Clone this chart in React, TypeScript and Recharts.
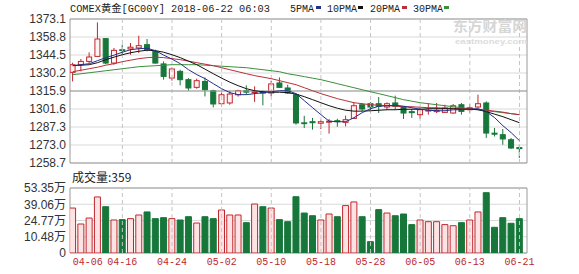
import React from 'react';
import { ComposedChart, Bar, Line, XAxis, YAxis, CartesianGrid, ReferenceLine, ReferenceArea, Cell } from 'recharts';

const dates = ['04-06','04-09','04-10','04-11','04-12','04-13','04-16','04-17','04-18','04-19','04-20','04-23','04-24','04-25','04-26','04-27','04-30','05-01','05-02','05-03','05-04','05-07','05-08','05-09','05-10','05-11','05-14','05-15','05-16','05-17','05-18','05-21','05-22','05-23','05-24','05-25','05-28','05-29','05-30','05-31','06-01','06-04','06-05','06-06','06-07','06-08','06-11','06-12','06-13','06-14','06-15','06-18','06-19','06-20','06-21'];

const opens = [1330.7,1336.8,1339.4,1343.4,1357.5,1338.1,1348.7,1349.3,1350.1,1352.7,1347.4,1337.4,1326.2,1331.5,1324.9,1318.8,1323.5,1316.1,1305.8,1306.4,1312.9,1316.1,1314.5,1315.1,1314.3,1322.3,1318.3,1312.9,1290.6,1291.5,1290.3,1291.1,1292.3,1291.0,1294.1,1305.0,1305.8,1305.8,1303.2,1306.4,1303.2,1299.5,1297.1,1300.3,1299.5,1298.9,1298.4,1305.0,1301.0,1303.2,1306.4,1282.4,1281.2,1277.2,1270.9];
const closes = [1336.8,1339.4,1342.9,1357.2,1338.1,1348.2,1348.3,1350.7,1351.9,1348.7,1338.1,1327.5,1333.4,1324.9,1318.3,1324.1,1316.9,1305.6,1312.9,1313.5,1316.1,1315.0,1315.3,1314.2,1321.5,1318.8,1314.3,1290.5,1290.5,1290.7,1291.5,1291.9,1291.5,1293.1,1304.2,1301.6,1303.2,1303.7,1305.8,1303.7,1298.4,1298.7,1301.0,1300.6,1300.5,1302.4,1304.2,1299.7,1302.6,1305.8,1282.5,1281.6,1277.8,1270.6,1270.1];
const highs = [1338.4,1341.3,1346.6,1370.4,1357.9,1350.1,1352.7,1354.0,1359.8,1357.2,1348.7,1339.4,1334.6,1332.8,1326.2,1325.7,1326.7,1316.9,1315.3,1316.1,1316.9,1320.4,1319.6,1316.1,1324.1,1326.7,1320.9,1313.8,1296.2,1294.5,1293.1,1293.7,1293.9,1296.3,1306.6,1306.4,1307.1,1311.1,1306.9,1312.2,1303.7,1301.6,1302.4,1306.4,1306.4,1305.0,1305.6,1306.4,1305.4,1313.0,1307.7,1286.5,1285.7,1278.6,1273.2];
const lows = [1323.5,1331.5,1338.1,1343.2,1337.2,1336.8,1344.7,1344.7,1346.1,1347.4,1337.6,1324.9,1324.1,1320.4,1316.1,1317.7,1311.6,1302.9,1303.7,1305.0,1311.4,1313.0,1307.2,1304.5,1311.6,1318.3,1313.5,1289.1,1286.5,1285.2,1285.7,1282.0,1287.5,1287.8,1294.0,1299.7,1299.7,1298.4,1301.0,1301.0,1293.7,1294.5,1293.7,1297.1,1298.4,1298.4,1297.9,1297.1,1298.6,1302.4,1278.6,1279.8,1273.2,1269.8,1262.7];

const ma5 = [1336.0,1336.8,1337.6,1340.0,1342.4,1344.4,1346.7,1348.7,1349.5,1349.9,1347.9,1344.4,1341.2,1337.6,1332.8,1328.9,1325.7,1321.7,1317.7,1314.6,1313.0,1313.0,1313.8,1314.6,1315.3,1316.1,1316.1,1313.8,1308.2,1302.6,1297.1,1291.9,1291.5,1291.5,1294.7,1298.7,1301.8,1303.8,1304.2,1304.6,1303.8,1302.6,1301.4,1300.6,1300.2,1300.2,1301.0,1301.0,1301.4,1301.8,1299.5,1294.7,1288.3,1282.8,1276.4];
const ma10 = [1336.0,1336.4,1336.8,1338.4,1340.8,1342.8,1344.7,1346.3,1347.5,1348.3,1347.9,1346.7,1344.7,1342.4,1339.6,1336.8,1333.2,1329.6,1326.1,1322.9,1320.1,1317.7,1316.1,1315.3,1314.9,1314.9,1314.6,1313.4,1311.4,1309.0,1306.6,1304.2,1302.2,1300.6,1299.9,1299.9,1300.2,1300.6,1301.0,1301.0,1301.4,1301.4,1301.4,1301.8,1301.8,1301.8,1301.8,1301.4,1301.4,1301.0,1299.5,1297.5,1295.5,1293.1,1290.7];
const ma20 = [1331.2,1332.4,1333.6,1334.8,1336.4,1337.6,1339.2,1340.4,1341.6,1342.4,1342.8,1342.4,1341.6,1340.8,1339.6,1338.4,1337.2,1336.0,1334.4,1332.8,1331.2,1329.6,1328.1,1326.9,1325.7,1324.1,1322.5,1320.9,1318.5,1316.1,1313.8,1311.8,1309.8,1308.2,1306.6,1305.8,1305.0,1304.6,1304.2,1303.8,1303.4,1303.4,1303.0,1302.6,1302.6,1302.2,1302.2,1301.8,1301.8,1301.4,1300.6,1299.9,1299.1,1297.9,1297.1];
const ma30 = [1328.9,1329.6,1330.4,1331.2,1332.0,1332.8,1333.6,1334.4,1335.2,1335.6,1336.0,1336.4,1336.8,1336.8,1336.8,1336.8,1336.4,1336.0,1335.6,1335.2,1334.8,1334.4,1333.6,1332.8,1332.0,1331.2,1329.6,1328.5,1327.3,1326.1,1324.9,1323.3,1321.7,1320.1,1318.5,1316.9,1315.3,1313.8,1312.2,1310.6,1309.0,1307.8,1306.6,1305.8,1305.0,1304.2,1303.4,1302.6,1301.8,1301.0,1300.2,1299.5,1298.7,1297.9,1297.1];

// volume, in 万
const volumes = [36.9,23.8,28.7,46.0,38.0,27.1,27.4,28.2,31.2,33.7,28.2,29.0,28.2,27.1,29.8,24.6,29.8,28.2,35.3,31.2,31.2,24.9,40.2,38.0,36.9,27.4,25.7,46.2,32.8,30.6,27.1,32.0,29.8,38.9,41.9,29.8,9.3,35.6,32.8,30.6,32.0,23.3,27.1,25.7,25.7,23.3,22.4,24.9,27.1,33.7,49.5,21.1,29.0,24.4,28.2];

const priceTicks = [1258.7, 1273.0, 1287.3, 1301.6, 1315.9, 1330.2, 1344.5, 1358.8, 1373.1];
const volTicks = [0, 13.3375, 26.675, 40.0125, 53.35];
const volTickLabels = ['0', '10.48万', '24.77万', '39.06万', '53.35万'];
const dateTickIdx = [0, 6, 12, 18, 24, 30, 36, 42, 48, 54];
const gridIdx = [6, 12, 18, 24, 30, 36, 42, 48, 54];

const PMIN = 1258.7;
const PMAX = 1373.1;
const VMAX = 53.35;
const XMIN = -0.33;
const XMAX = 54.91;

const RED = '#c0272d';
const PINK_C = '#fff4f4';
const PINK_V = '#fde3e3';
const GREEN = '#17773a';
const C_MA5 = '#23308c';
const C_MA10 = '#111111';
const C_MA20 = '#b82f3a';
const C_MA30 = '#3b8f3b';

const data = dates.map((d, i) => ({
  i,
  date: d,
  open: opens[i],
  close: closes[i],
  high: highs[i],
  low: lows[i],
  ma5: ma5[i],
  ma10: ma10[i],
  ma20: ma20[i],
  ma30: ma30[i],
  vol: volumes[i],
}));

const Candle = (props: any) => {
  const { x, y, width, height, payload } = props;
  if (!payload || x == null) return null;
  const { open, close, high, low } = payload;
  const up = close > open;
  const color = up ? RED : GREEN;
  const y0 = Math.min(y, y + height);
  const h = Math.abs(height);
  const span = high - low;
  const k = span > 0 ? h / span : 0;
  const yOf = (v: number) => y0 + (high - v) * k;
  const cx = x + width / 2;
  const top = yOf(Math.max(open, close));
  const bot = yOf(Math.min(open, close));
  const bh = Math.max(bot - top, 0.8);
  return (
    <g>
      <line x1={cx} x2={cx} y1={y0} y2={y0 + h} stroke={color} strokeWidth={1} />
      <rect x={x + 0.5} y={top} width={width - 1} height={bh} fill={up ? PINK_C : GREEN} stroke={color} strokeWidth={1} />
    </g>
  );
};

const monoFont = "'Liberation Mono', 'Noto Sans CJK SC', monospace";

const DateTick = (props: any) => {
  const { x, y, payload } = props;
  const first = payload.value === 0;
  return (
    <text
      x={x}
      y={y + 12}
      textAnchor={first ? 'start' : 'middle'}
      fontSize={10.5}
      fontFamily={monoFont}
      fill={RED}
      textLength={30}
      lengthAdjust="spacingAndGlyphs"
    >
      {dates[payload.value]}
    </text>
  );
};

const labelFont = "'Liberation Sans', 'Noto Sans CJK SC', sans-serif";

export default function App() {
  return (
    <div style={{ position: 'absolute', left: 0, top: 0, width: 579, height: 274, background: '#fff' }}>
      <div style={{ position: 'absolute', left: 0, top: 0 }}>
        <ComposedChart width={579} height={170} data={data} margin={{ top: 19, right: 52, left: 0, bottom: 7 }}>
          <CartesianGrid vertical={false} stroke="#d9d9d9" />
          <XAxis dataKey="i" type="number" domain={[XMIN, XMAX]} allowDataOverflow hide />
          <YAxis
            domain={[PMIN, PMAX]}
            ticks={priceTicks}
            interval={0}
            allowDataOverflow
            width={70}
            tickLine={false}
            axisLine={false}
            tickSize={0}
            tickMargin={4}
            tick={{ fontSize: 12, fill: '#333', fontFamily: labelFont }}
            tickFormatter={(v: number) => v.toFixed(1)}
          />
          {gridIdx.map((g) => (
            <ReferenceLine key={'pv' + g} x={g} stroke="#c4c4c4" strokeDasharray="4 3" />
          ))}
          <ReferenceLine y={1315.9} stroke="#9a9a9a" />
          <Bar dataKey={(d: any) => [d.low, d.high]} shape={<Candle />} barSize={6} isAnimationActive={false} />
          <Line type="linear" dataKey="ma30" stroke={C_MA30} strokeWidth={1} dot={false} isAnimationActive={false} />
          <Line type="linear" dataKey="ma20" stroke={C_MA20} strokeWidth={1} dot={false} isAnimationActive={false} />
          <Line type="linear" dataKey="ma10" stroke={C_MA10} strokeWidth={1} dot={false} isAnimationActive={false} />
          <Line type="linear" dataKey="ma5" stroke={C_MA5} strokeWidth={1} dot={false} isAnimationActive={false} />
          <ReferenceArea x1={XMIN} x2={XMAX} y1={PMIN} y2={PMAX} fill="none" stroke="#9a9a9a" ifOverflow="visible" />
        </ComposedChart>
      </div>
      <div style={{ position: 'absolute', left: 0, top: 170 }}>
        <ComposedChart width={579} height={104} data={data} margin={{ top: 18, right: 52, left: 0, bottom: 1 }}>
          <CartesianGrid vertical={false} stroke="#d9d9d9" />
          <XAxis
            dataKey="i"
            type="number"
            domain={[XMIN, XMAX]}
            allowDataOverflow
            ticks={dateTickIdx}
            interval={0}
            height={20}
            tickLine={false}
            axisLine={false}
            tickSize={0}
            tickMargin={0}
            tick={<DateTick />}
          />
          <YAxis
            domain={[0, VMAX]}
            ticks={volTicks}
            interval={0}
            allowDataOverflow
            width={70}
            tickLine={false}
            axisLine={false}
            tickSize={0}
            tickMargin={4}
            tick={{ fontSize: 12, fill: '#333', fontFamily: labelFont }}
            tickFormatter={(v: number, idx: number) => volTickLabels[idx]}
          />
          {gridIdx.map((g) => (
            <ReferenceLine key={'vv' + g} x={g} stroke="#c4c4c4" strokeDasharray="4 3" />
          ))}
          <Bar dataKey="vol" barSize={6} isAnimationActive={false}>
            {data.map((d) => {
              const up = d.close > d.open;
              return <Cell key={d.i} fill={up ? PINK_V : GREEN} stroke={up ? RED : GREEN} strokeWidth={1} />;
            })}
          </Bar>
          <ReferenceArea x1={XMIN} x2={XMAX} y1={0} y2={VMAX} fill="none" stroke="#9a9a9a" ifOverflow="visible" />
        </ComposedChart>
      </div>
      <svg width={579} height={274} style={{ position: 'absolute', left: 0, top: 0, pointerEvents: 'none' }}>
        <text x={70} y={12} fontSize={10.5} fontFamily={monoFont} fill="#222" textLength={200} lengthAdjust="spacingAndGlyphs">
          COMEX黄金[GC00Y] 2018-06-22 06:03
        </text>
        <text x={290} y={12} fontSize={10.5} fontFamily={monoFont} fill="#222" textLength={24} lengthAdjust="spacingAndGlyphs">5PMA</text>
        <rect x={316} y={6} width={5} height={3} fill={C_MA5} />
        <text x={327} y={12} fontSize={10.5} fontFamily={monoFont} fill="#222" textLength={30} lengthAdjust="spacingAndGlyphs">10PMA</text>
        <rect x={358} y={6} width={5} height={3} fill={C_MA10} />
        <text x={370} y={12} fontSize={10.5} fontFamily={monoFont} fill="#222" textLength={30} lengthAdjust="spacingAndGlyphs">20PMA</text>
        <rect x={402} y={6} width={5} height={3} fill={C_MA20} />
        <text x={413} y={12} fontSize={10.5} fontFamily={monoFont} fill="#222" textLength={30} lengthAdjust="spacingAndGlyphs">30PMA</text>
        <rect x={444} y={6} width={5} height={3} fill={C_MA30} />
        <text x={453} y={31} fontSize={14} fontWeight="bold" fontFamily="'Noto Sans CJK SC', sans-serif" fill="#d6d6d6" textLength={74} lengthAdjust="spacingAndGlyphs">东方财富网</text>
        <text x={455} y={44} fontSize={7} fontWeight="bold" fontFamily="'Liberation Sans', sans-serif" fill="#dcdcdc" textLength={72} lengthAdjust="spacingAndGlyphs">eastmoney.com</text>
        <text x={72} y={182} fontSize={12} fontFamily="'Noto Sans CJK SC', sans-serif" fill="#222">成交量:359</text>
      </svg>
    </div>
  );
}
